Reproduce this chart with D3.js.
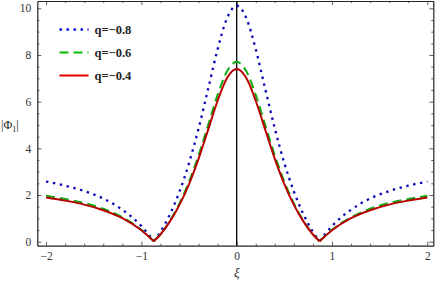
<!DOCTYPE html>
<html><head><meta charset="utf-8">
<script src="https://cdn.jsdelivr.net/npm/d3@7"></script>
<style>
html,body{margin:0;padding:0;background:#fff;}
svg{display:block;}
</style></head>
<body>
<svg id="c" width="436" height="282"></svg>
<script>
// ---- data ----
const xiLeft   = [-2.0, -1.8, -1.6, -1.4, -1.2, -1.0, -0.87];
const xiCenter = [-0.87, -0.8, -0.7, -0.6, -0.5, -0.4, -0.3, -0.2, -0.1, 0, 0.1, 0.2, 0.3, 0.4, 0.5, 0.6, 0.7, 0.8, 0.87];
const xiRight  = [0.87, 1.0, 1.2, 1.4, 1.6, 1.8, 2.0];

const seriesNames = ["q=\u22120.8", "q=\u22120.6", "q=\u22120.4"];
// |Φ1| for q = -0.8
const blueLeft   = [2.58, 2.40, 2.17, 1.85, 1.37, 0.67, 0.03];
const blueCenter = [0.03, 0.42, 1.18, 2.15, 3.37, 4.85, 6.54, 8.25, 9.59, 10.11, 9.59, 8.25, 6.54, 4.85, 3.37, 2.15, 1.18, 0.42, 0.03];
const blueRight  = [0.03, 0.67, 1.37, 1.85, 2.17, 2.40, 2.58];
// |Φ1| for q = -0.6
const greenLeft   = [1.97, 1.83, 1.66, 1.41, 1.05, 0.51, 0.02];
const greenCenter = [0.02, 0.32, 0.90, 1.64, 2.57, 3.70, 4.99, 6.29, 7.31, 7.71, 7.31, 6.29, 4.99, 3.70, 2.57, 1.64, 0.90, 0.32, 0.02];
const greenRight  = [0.02, 0.51, 1.05, 1.41, 1.66, 1.83, 1.97];
// |Φ1| for q = -0.4
const redLeft   = [1.89, 1.76, 1.59, 1.35, 1.01, 0.49, 0.02];
const redCenter = [0.02, 0.31, 0.87, 1.58, 2.47, 3.55, 4.79, 6.04, 7.02, 7.40, 7.02, 6.04, 4.79, 3.55, 2.47, 1.58, 0.87, 0.31, 0.02];
const redRight  = [0.02, 0.49, 1.01, 1.35, 1.59, 1.76, 1.89];

const xTicks = [-2, -1, 0, 1, 2];
const yTicks = [0, 2, 4, 6, 8, 10];

// ---- drawing ----
const SERIF = "'Liberation Serif', 'Times New Roman', Times, serif";
const svg = d3.select("#c");
const L = 37.3, R = 433.3, T = 1, B = 245.7;
const x = d3.scaleLinear().domain([-2.092, 2.063]).range([L, R]);
const y = d3.scaleLinear().domain([-0.171, 10.313]).range([B, T]);

const xMinor = d3.range(-2, 2.0001, 0.2).map(v => +v.toFixed(2)).filter(v => !xTicks.includes(v));
const yMinor = d3.range(0, 10.0001, 0.5).filter(v => !yTicks.includes(v));

function addAxis(axisFn, scale, ticks, minor, tr, labels) {
  const gMin = svg.append("g").attr("transform", tr)
    .call(axisFn(scale).tickValues(minor).tickSize(-2).tickFormat(""));
  gMin.select(".domain").remove();
  gMin.selectAll("line").attr("stroke", "#333").attr("stroke-width", 0.8);
  const g = svg.append("g").attr("transform", tr)
    .call(axisFn(scale).tickValues(ticks).tickSizeInner(-4).tickSizeOuter(0).tickPadding(6)
      .tickFormat(labels ? d3.format("d") : ""));
  g.attr("font-family", null).attr("font-size", null);
  g.select(".domain").attr("stroke", "#222").attr("stroke-width", 1.2);
  g.selectAll("line").attr("stroke", "#333").attr("stroke-width", 0.8);
  g.selectAll("text").style("font-family", SERIF).style("font-size", "11.5px").attr("fill", "#333");
  return g;
}
addAxis(d3.axisBottom, x, xTicks, xMinor, `translate(0,${B})`, true);
addAxis(d3.axisTop, x, xTicks, xMinor, `translate(0,${T})`, false);
addAxis(d3.axisLeft, y, yTicks, yMinor, `translate(${L},0)`, true);
addAxis(d3.axisRight, y, yTicks, yMinor, `translate(${R},0)`, false);

// vertical line at xi = 0
svg.append("line").attr("x1", x(0)).attr("x2", x(0)).attr("y1", T).attr("y2", B)
  .attr("stroke", "#000").attr("stroke-width", 1.3);

const line = d3.line().x(d => x(d[0])).y(d => y(d[1])).curve(d3.curveMonotoneX);
const styles = [
  {col: "#0808b8", lcol: "#0000f0", w: 2.3, dash: "2.4,4.6", segs: [blueLeft, blueCenter, blueRight]},
  {col: "#12a812", lcol: "#00c000", w: 2.0, dash: "9,5", segs: [greenLeft, greenCenter, greenRight]},
  {col: "#b80000", lcol: "#e00000", w: 2.0, dash: null, segs: [redLeft, redCenter, redRight]}
];
const xis = [xiLeft, xiCenter, xiRight];
const plot = svg.append("g");
styles.forEach(s => {
  s.segs.forEach((vals, i) => {
    const pts = xis[i].map((xv, j) => [xv, vals[j]]);
    plot.append("path").attr("d", line(pts)).attr("fill", "none")
      .attr("stroke", s.col).attr("stroke-width", s.w)
      .attr("stroke-dasharray", s.dash);
  });
});

// legend
const lg = svg.append("g");
const legY = [29.5, 52.5, 75.5];
styles.forEach((s, i) => {
  lg.append("line").attr("x1", 59.5).attr("x2", 88.5).attr("y1", legY[i]).attr("y2", legY[i])
    .attr("stroke", s.lcol).attr("stroke-width", s.w).attr("stroke-dasharray", s.dash);
  lg.append("text").attr("x", 94.5).attr("y", legY[i] + 4.3)
    .style("font-family", SERIF).style("font-weight", "bold")
    .style("font-size", "12.5px").attr("fill", "#222").text(seriesNames[i]);
});

// axis labels
const yl = svg.append("text").attr("x", 1).attr("y", 129)
  .style("font-family", SERIF).style("font-size", "12px").attr("fill", "#222");
yl.append("tspan").text("|\u03A6");
yl.append("tspan").style("font-size", "8px").attr("dy", 2.5).text("1");
yl.append("tspan").attr("dy", -2.5).text("|");

svg.append("text").attr("x", x(0)).attr("y", 277).attr("text-anchor", "middle")
  .style("font-family", SERIF).style("font-style", "italic")
  .style("font-size", "13px").attr("fill", "#222").text("\u03BE");
</script>
</body></html>
